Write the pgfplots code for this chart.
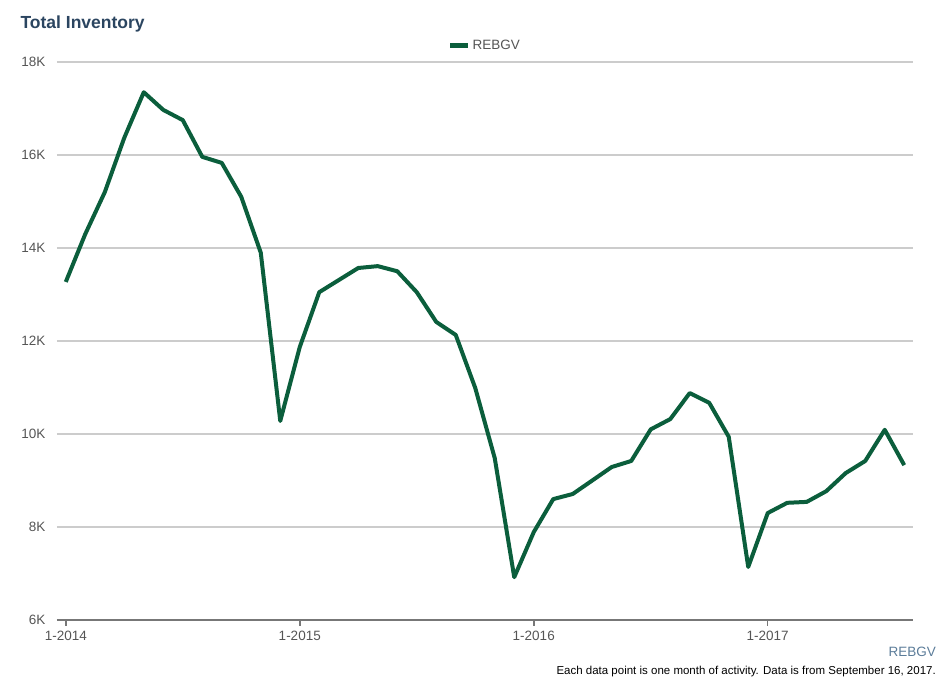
\documentclass[border=0pt]{standalone}
\usepackage{pgfplots}
\pgfplotsset{compat=1.18}
\usepackage{fontspec}
\setmainfont{Liberation Sans}
\definecolor{linegreen}{HTML}{0B5E3C}
\definecolor{titleblue}{HTML}{2B4560}
\definecolor{slate}{HTML}{5B7C99}
\definecolor{ticktext}{HTML}{555555}
\definecolor{gridgray}{HTML}{CCCCCC}
\definecolor{axisgray}{HTML}{777777}
\begin{document}
\begin{tikzpicture}[x=1pt,y=1pt]
\useasboundingbox (0,0) rectangle (946,683);
\begin{axis}[
  at={(57pt,63pt)}, anchor=south west,
  scale only axis, width=856pt, height=558pt,
  xmin=-0.45, xmax=43.45, ymin=6000, ymax=18000,
  scaled y ticks=false,
  axis x line*=bottom, axis y line*=left,
  x axis line style={draw=axisgray, line width=2.5pt, -},
  y axis line style={draw=none},
  ytick={6000,8000,10000,12000,14000,16000,18000},
  yticklabels={6K,8K,10K,12K,14K,16K,18K},
  xtick={0,12,24,36},
  xticklabels={1-2014,1-2015,1-2016,1-2017},
  tick align=outside,
  major tick length=6pt,
  xtick style={draw=axisgray, line width=1.5pt},
  ytick style={draw=none},
  ymajorgrids,
  grid style={draw=gridgray, line width=1.2pt},
  tick label style={font=\fontsize{13.5}{15}\selectfont, text=ticktext},
  yticklabel style={xshift=-2pt},
  xticklabel style={yshift=-2pt},
  legend style={at={(axis description cs:0.5,1.012)}, anchor=south, draw=none, fill=none,
    font=\fontsize{13.5}{15}\selectfont, text=ticktext},
  legend image code/.code={\draw[line width=4.5pt] (0pt,0pt) -- (18pt,0pt);},
]
\addplot[linegreen, line width=4pt, line join=round] coordinates {
(0,13270) (1,14300) (2,15200) (3,16370) (4,17350) (5,16970) (6,16750) (7,15960)
(8,15830) (9,15100) (10,13900) (11,10280)
(12,11870) (13,13050) (14,13310) (15,13570) (16,13610) (17,13500) (18,13050) (19,12410)
(20,12130) (21,10990) (22,9480) (23,6920)
(24,7890) (25,8600) (26,8710) (27,9000) (28,9290) (29,9420) (30,10100) (31,10320)
(32,10880) (33,10670) (34,9940) (35,7140)
(36,8300) (37,8520) (38,8540) (39,8770) (40,9160) (41,9420) (42,10090) (43,9330)
};
\addlegendentry{REBGV}
\end{axis}
\node[anchor=west, text=titleblue, font=\fontsize{17.5}{20}\selectfont\bfseries] at (17,659) {Total Inventory};
\node[anchor=east, text=slate, font=\fontsize{13.5}{15}\selectfont, inner sep=0pt] at (936,31) {REBGV};
\node[anchor=east, text=black, font=\fontsize{11.5}{13}\selectfont, inner sep=0pt] at (936,11) {Each data point is one month of activity. Data is from September 16, 2017.};
\end{tikzpicture}
\end{document}
